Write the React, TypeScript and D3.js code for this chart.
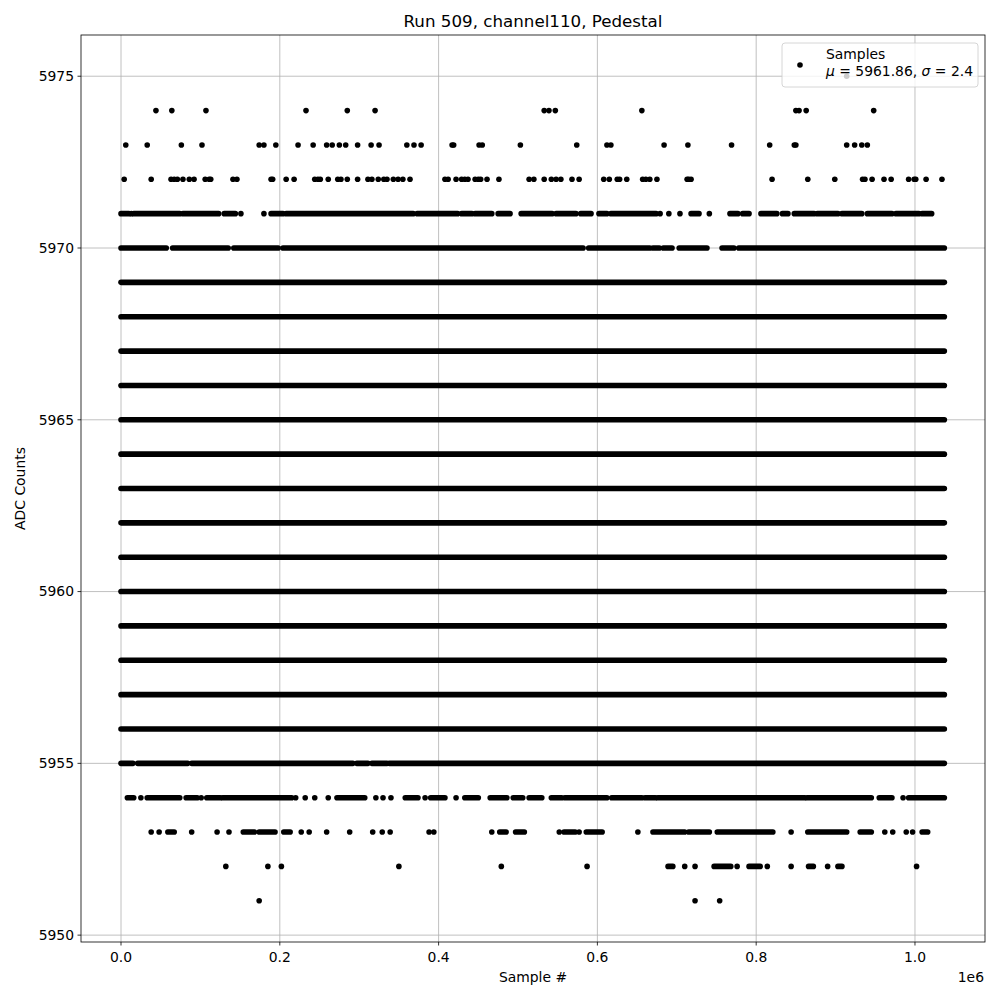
import * as d3 from "d3";

type Run = number | [number, number];

// sample positions are in thousands of samples (x1e3)
const level5975: Run[] = [914];
const level5974: Run[] = [44, 64, 107, 233, 285, 320, 533, 539, 547, 656, 850, 854, 863, 948];
const level5973: Run[] = [6, 33, 76, 102, 174, 180, 195, 223, 242, 259, 266, 275, 283, 298, 315, 325, 360, 369, 378,
  417, 419, 451, 455, 503, 574, 612, 617, 684, 714, 769, 817, 848, 850, 914, 924, 933, 940];
const level5972: Run[] = [4, 38, 63, 67, 71, 78, 86, 92, 106, 111, 113, 141, 146, 189, 191, 208, 218, 244, 248, 251,
  261, 273, 277, 285, 298, 311, 316, 324, 331, 335, 343, 349, 355, 364, 408, 412, 422, 429, 433, 437, 446, 450, 453,
  461, 476, 514, 520, 533, 542, 548, 554, 568, 577, 608, 615, 625, 628, 637, 657, 661, 666, 675, 713, 715, 718, 820,
  865, 899, 934, 937, 946, 961, 970, 992, 999, 1001, 1014, 1034];
const level5971: Run[] = [[0, 10], 13, [16, 74], [78, 123], [130, 144], 151, 180, [189, 204], [208, 368], [373, 424],
  [429, 442], [446, 467], [475, 490], [504, 543], [548, 573], [579, 592], [602, 612], [617, 674], 679, 690, 704,
  [718, 728], 741, [767, 777], [783, 791], [806, 826], [833, 840], [848, 873], [877, 903], [908, 933], [940, 971],
  [976, 1005], [1009, 1021]];
const level5970: Run[] = [[0, 57], [65, 135], [142, 198], [204, 582], [589, 666], [670, 678], [683, 694], [703, 738],
  [757, 772], [778, 1037]];
const fullLevels = [5969, 5968, 5967, 5966, 5965, 5964, 5963, 5962, 5961, 5960, 5959, 5958, 5957, 5956];
const fullSpan: Run[] = [[0, 1037]];
const level5955: Run[] = [[0, 15], [21, 84], [89, 292], [297, 311], [316, 335], [338, 1037]];
const level5954: Run[] = [[8, 16], 25, [33, 74], [82, 96], 101, [108, 125], [128, 215], 220, 232, 244, 261, [272, 307],
  321, 330, 340, [358, 374], 383, [390, 408], 422, [433, 450], [465, 486], [494, 506], [514, 530], [542, 555],
  [559, 612], [618, 656], [660, 673], [676, 861], [864, 945], [955, 971], 985, [992, 1037]];
const level5953: Run[] = [38, 48, [59, 67], 89, 121, 136, [154, 168], [174, 194], [205, 213], 227, 237, 259, 288, 317,
  329, 339, 388, 394, 467, [477, 485], [497, 508], 552, [558, 572], 577, [586, 606], 651, [670, 710], [715, 741],
  [751, 821], 844, [865, 914], [931, 945], 962, 972, 989, 997, [1009, 1016]];
const level5952: Run[] = [132, 185, 202, 350, 479, 587, [689, 695], 710, 723, [747, 768], 776, [791, 805], 814, 844,
  [866, 872], 890, [903, 908], 1002];
const level5951: Run[] = [174, 723, 754];

const xTicks = [0, 0.2, 0.4, 0.6, 0.8, 1.0];
const yTicks = [5950, 5955, 5960, 5965, 5970, 5975];

const levels: [number, Run[]][] = [
  [5975, level5975], [5974, level5974], [5973, level5973], [5972, level5972], [5971, level5971], [5970, level5970],
  ...fullLevels.map((l): [number, Run[]] => [l, fullSpan]),
  [5955, level5955], [5954, level5954], [5953, level5953], [5952, level5952], [5951, level5951],
];

const W = 1000;
const H = 1000;
const margin = { top: 35, right: 15, bottom: 58, left: 81 };
const font = "DejaVu Sans, Liberation Sans, sans-serif";
const gridColor = "#b0b0b0";
const R = 2.8;

export default function App() {
  const x = d3.scaleLinear().domain([-50.4, 1088.2]).range([margin.left, W - margin.right]);
  const y = d3.scaleLinear().domain([5949.8, 5976.2]).range([H - margin.bottom, margin.top]);
  const x0 = margin.left, x1 = W - margin.right, y0 = margin.top, y1 = H - margin.bottom;

  const marks: JSX.Element[] = [];
  levels.forEach(([lvl, runs]) => {
    runs.forEach((r, i) => {
      const key = `${lvl}-${i}`;
      if (typeof r === "number") {
        marks.push(<circle key={key} cx={x(r)} cy={y(lvl)} r={R} fill="#000" />);
      } else {
        marks.push(<line key={key} x1={x(r[0])} x2={x(r[1])} y1={y(lvl)} y2={y(lvl)}
          stroke="#000" strokeWidth={R * 2} strokeLinecap="round" />);
      }
    });
  });

  return (
    <svg width={W} height={H} style={{ position: "absolute", left: 0, top: 0, background: "#fff" }}
      fontFamily={font}>
      <rect width={W} height={H} fill="#fff" />
      {/* grid */}
      {xTicks.map(t => (
        <line key={"gx" + t} x1={x(t * 1000)} x2={x(t * 1000)} y1={y0} y2={y1} stroke={gridColor} strokeWidth={0.8} />
      ))}
      {yTicks.map(t => (
        <line key={"gy" + t} x1={x0} x2={x1} y1={y(t)} y2={y(t)} stroke={gridColor} strokeWidth={0.8} />
      ))}
      <defs>
        <clipPath id="plotclip"><rect x={x0} y={y0} width={x1 - x0} height={y1 - y0} /></clipPath>
      </defs>
      <g clipPath="url(#plotclip)">{marks}</g>
      {/* spines */}
      <rect x={x0} y={y0} width={x1 - x0} height={y1 - y0} fill="none" stroke="#000" strokeWidth={0.8} />
      {/* ticks */}
      {xTicks.map(t => (
        <g key={"tx" + t}>
          <line x1={x(t * 1000)} x2={x(t * 1000)} y1={y1} y2={y1 + 3.5} stroke="#000" strokeWidth={0.8} />
          <text x={x(t * 1000)} y={y1 + 20} textAnchor="middle" fontSize={13.9}>{d3.format(".1f")(t)}</text>
        </g>
      ))}
      {yTicks.map(t => (
        <g key={"ty" + t}>
          <line x1={x0 - 3.5} x2={x0} y1={y(t)} y2={y(t)} stroke="#000" strokeWidth={0.8} />
          <text x={x0 - 7} y={y(t)} dy="0.35em" textAnchor="end" fontSize={13.9}>{t}</text>
        </g>
      ))}
      <text x={x1 - 1} y={982} textAnchor="end" fontSize={13.9}>1e6</text>
      <text x={(x0 + x1) / 2} y={982} textAnchor="middle" fontSize={13.9}>Sample #</text>
      <text transform={`translate(25, ${(y0 + y1) / 2}) rotate(-90)`} textAnchor="middle" fontSize={13.9}>ADC Counts</text>
      <text x={(x0 + x1) / 2} y={27} textAnchor="middle" fontSize={16.7}>Run 509, channel110, Pedestal</text>
      {/* legend */}
      <rect x={782} y={43} width={196} height={44} rx={3} fill="#fff" fillOpacity={0.8} stroke="#cccccc" strokeWidth={0.8} />
      <circle cx={800} cy={65} r={R} fill="#000" />
      <text x={826} y={59} fontSize={13.9}>Samples</text>
      <text x={826} y={76} fontSize={13.9}>
        <tspan fontStyle="italic">μ</tspan> = 5961.86, <tspan fontStyle="italic">σ</tspan> = 2.4
      </text>
    </svg>
  );
}
